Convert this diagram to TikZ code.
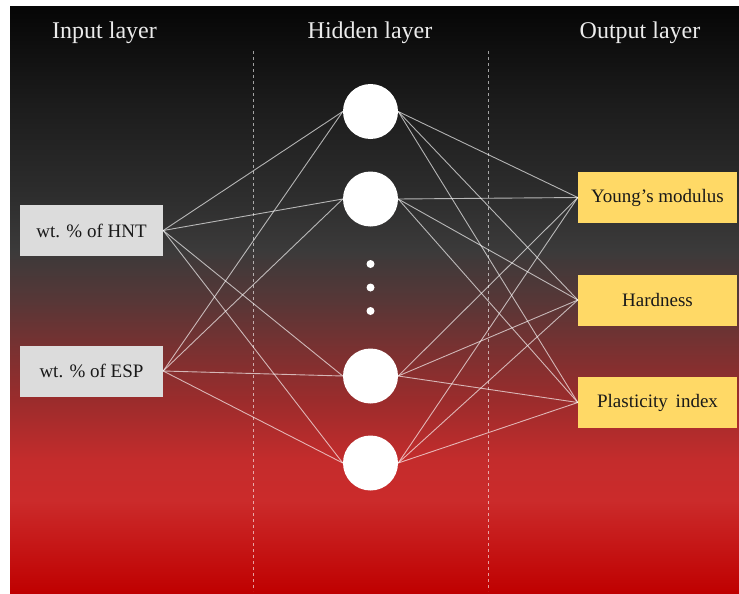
\documentclass[tikz,border=0pt]{standalone}
\usepackage{fontspec}
\setmainfont{Liberation Serif}
\usepackage{xcolor}
\usetikzlibrary{positioning}

\definecolor{bgtop}{HTML}{060606}
\definecolor{bgdark}{HTML}{1B1B1B}
\definecolor{bgmid}{HTML}{2E2E2E}
\definecolor{bggray}{HTML}{3B3A3A}
\definecolor{bgbrown}{HTML}{573737}
\definecolor{bgmaroon}{HTML}{7A3131}
\definecolor{bgrust}{HTML}{9B2C2C}
\definecolor{bgred}{HTML}{C42C2C}
\definecolor{bglight}{HTML}{CB2B2B}
\definecolor{bgbottom}{HTML}{BF0000}
\definecolor{inputfill}{HTML}{DCDCDC}
\definecolor{outputfill}{HTML}{FFD966}

\pgfdeclareverticalshading{bgfade}{100bp}{%
  color(0bp)=(bgbottom); color(25bp)=(bgbottom);
  color(33bp)=(bglight); color(36.4bp)=(bgred);
  color(41.5bp)=(bgrust); color(45.8bp)=(bgmaroon);
  color(50bp)=(bgbrown); color(54.3bp)=(bggray);
  color(58.6bp)=(bgmid); color(67.1bp)=(bgdark);
  color(75bp)=(bgtop); color(100bp)=(bgtop)}

\begin{document}
\begin{tikzpicture}[
    x=1pt, y=-1pt,
    title/.style={text=white!92!black, font=\fontsize{24}{27}\selectfont, anchor=base},
    inbox/.style={rectangle, fill=inputfill, minimum width=143pt, minimum height=51pt, font=\fontsize{19}{22}\selectfont, text=black!90},
    outbox/.style={rectangle, fill=outputfill, minimum width=159pt, minimum height=51pt, font=\fontsize{19}{22}\selectfont, text=black!90},
    neuron/.style={circle, fill=white, minimum size=55pt, inner sep=0pt},
    dot/.style={circle, fill=white, minimum size=8pt, inner sep=0pt},
    link/.style={white, opacity=0.65, line width=0.9pt},
    divider/.style={white, opacity=0.6, dashed, line width=0.8pt}
]
    % Background
    \path[use as bounding box, fill=white] (0,0) rectangle (739,594);
    \shade[shading=bgfade] (10,7) rectangle (739,594);

    % Layer titles
    \node[title] (tin) at (104.5,39) {Input layer};
    \node[title] (thid) at (370,39) {Hidden layer};
    \node[title] (tout) at (640,39) {Output layer};

    % Dividers
    \coordinate (d1a) at (253,51);
    \coordinate (d1b) at (253,591);
    \coordinate (d2a) at (488,51);
    \coordinate (d2b) at (488,591);
    \draw[divider] (d1a) -- (d1b);
    \draw[divider] (d2a) -- (d2b);

    % Input layer
    \node[inbox] (hnt) at (91.5,230.5) {wt. \% of HNT};
    \node[inbox] (esp) at (91.5,371) {wt. \% of ESP};

    % Hidden layer
    \node[neuron] (h1) at (370.5,111.5) {};
    \node[neuron] (h2) at (370.5,199) {};
    \node[neuron] (h3) at (370.5,376) {};
    \node[neuron] (h4) at (370.5,463) {};
    \node[dot] (dt1) at (370.5,264) {};
    \node[dot] (dt2) at (370.5,287.5) {};
    \node[dot] (dt3) at (370.5,311) {};

    % Output layer
    \node[outbox] (young) at (657.5,197.5) {Young’s modulus};
    \node[outbox] (hard) at (657.5,300) {Hardness};
    \node[outbox] (plast) at (657.5,402.5) {Plasticity\, index};

    % Connections
    \foreach \i in {hnt,esp} {
        \foreach \h in {h1,h2,h3,h4} {
            \draw[link] (\i.east) -- (\h.west);
        }
    }
    \foreach \h in {h1,h2,h3,h4} {
        \foreach \o in {young,hard,plast} {
            \draw[link] (\h.east) -- (\o.west);
        }
    }

\end{tikzpicture}
\end{document}
